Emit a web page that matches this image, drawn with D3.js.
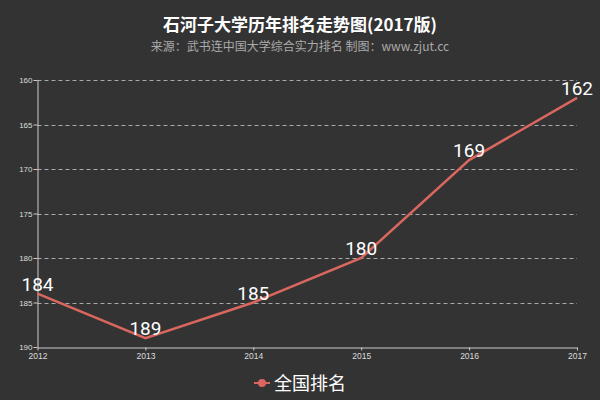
<!DOCTYPE html>
<html>
<head>
<meta charset="utf-8">
<script src="https://cdn.jsdelivr.net/npm/d3@7"></script>
<style>
  body { margin: 0; background: #333; }
  svg { display: block; font-family: "Microsoft YaHei", "Noto Sans CJK SC", sans-serif; }
</style>
</head>
<body>
<svg id="chart" width="600" height="400"></svg>
<script>
var years = [2012, 2013, 2014, 2015, 2016, 2017];
var ranks = [184, 189, 185, 180, 169, 162];
var yTicks = [160, 165, 170, 175, 180, 185, 190];
var seriesName = "全国排名";
var titleText = "石河子大学历年排名走势图(2017版)";
var subText = "来源：武书连中国大学综合实力排名 制图：www.zjut.cc";

var svg = d3.select('#chart');
var lineColor = '#d9675f';

svg.append('rect').attr('width', 600).attr('height', 400).attr('fill', '#333');

var x = d3.scaleLinear().domain([2012, 2017]).range([37.5, 577]);
var y = d3.scaleLinear().domain([160, 190]).range([80, 347]);

// grid lines
svg.append('g').selectAll('line').data(yTicks.slice(0, -1)).enter().append('line')
  .attr('x1', 37.5).attr('x2', 577)
  .attr('y1', d => Math.round(y(d)) + 0.5).attr('y2', d => Math.round(y(d)) + 0.5)
  .style('stroke', '#aaa').style('stroke-width', 1).style('stroke-dasharray', '4,3');

// y axis
var yAxis = svg.append('g').attr('transform', 'translate(37.5,0)')
  .call(d3.axisLeft(y).tickValues(yTicks).tickSize(4).tickSizeOuter(0));
yAxis.select('.domain').style('stroke', '#ccc');
yAxis.selectAll('.tick line').style('stroke', '#ccc');
yAxis.selectAll('text').style('fill', '#ddd').style('font-size', '8px').attr('x', -5);

// x axis
var xAxis = svg.append('g').attr('transform', 'translate(0,347.5)')
  .call(d3.axisBottom(x).tickValues(years).tickFormat(d3.format('d')).tickSize(3).tickSizeOuter(0));
xAxis.select('.domain').style('stroke', '#ccc');
xAxis.selectAll('.tick line').style('stroke', '#ccc');
xAxis.selectAll('text').style('fill', '#ddd').style('font-size', '8.5px').attr('dy', '0.71em').attr('y', 5);

// line
var line = d3.line().x((d, i) => x(years[i])).y(d => y(d));
svg.append('path').datum(ranks).attr('d', line)
  .style('fill', 'none').style('stroke', lineColor).style('stroke-width', 2.5);

// labels
svg.append('g').selectAll('text').data(ranks).enter().append('text')
  .attr('x', (d, i) => x(years[i])).attr('y', d => y(d) - 3)
  .attr('text-anchor', 'middle').style('fill', '#fff').style('font-size', '19px')
  .style('font-family', 'Roboto, sans-serif')
  .text(d => d);

// title
svg.append('text').attr('x', 300).attr('y', 31).attr('text-anchor', 'middle')
  .style('fill', '#fff').style('font-size', '17px').style('font-weight', 'bold').text(titleText);
svg.append('text').attr('x', 300).attr('y', 51).attr('text-anchor', 'middle')
  .style('fill', '#aaa').style('font-size', '12px').text(subText);

// legend
var lg = svg.append('g').attr('transform', 'translate(262,383)');
lg.append('line').attr('x1', -8).attr('x2', 8).style('stroke', lineColor).style('stroke-width', 2);
lg.append('circle').attr('r', 4).style('fill', lineColor);
lg.append('text').attr('x', 12).attr('y', 7).style('fill', '#fff').style('font-size', '18px').text(seriesName);
</script>
</body>
</html>
